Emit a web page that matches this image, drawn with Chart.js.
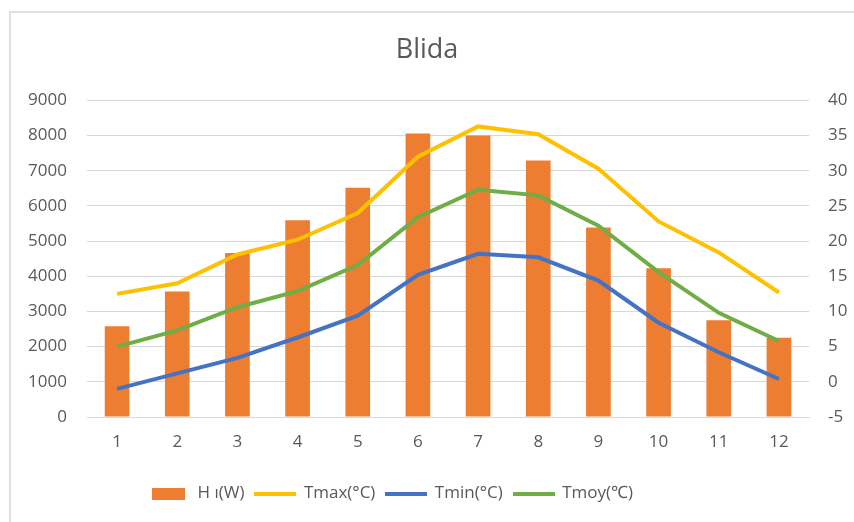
<!DOCTYPE html>
<html>
<head>
<meta charset="utf-8">
<title>Blida</title>
<script src="https://cdn.jsdelivr.net/npm/chart.js@4.4.1/dist/chart.umd.min.js"></script>
<style>
  html, body { margin: 0; padding: 0; background: #ffffff; }
  #wrap { position: relative; width: 854px; height: 522px; }
</style>
</head>
<body>
<div id="wrap"><canvas id="chart" width="854" height="522"></canvas></div>
<script>
// Monthly values for Blida
const months = ['1', '2', '3', '4', '5', '6', '7', '8', '9', '10', '11', '12'];
const energy = [2580, 3570, 4660, 5590, 6520, 8060, 8000, 7290, 5390, 4230, 2750, 2250];
const tMax = [12.5, 14.0, 18.1, 20.2, 24.0, 32.0, 36.3, 35.2, 30.3, 22.8, 18.4, 12.7];
const tMin = [-1.0, 1.2, 3.4, 6.3, 9.4, 15.2, 18.2, 17.7, 14.4, 8.4, 4.2, 0.4];
const tMoy = [5.0, 7.3, 10.6, 12.9, 16.6, 23.4, 27.3, 26.5, 22.2, 15.6, 9.8, 5.8];

const leftTicks = [0, 1000, 2000, 3000, 4000, 5000, 6000, 7000, 8000, 9000];
const rightTicks = [-5, 0, 5, 10, 15, 20, 25, 30, 35, 40];

const textColor = '#595959';
const gridColor = '#d9d9d9';
const fontFamily = '"Open Sans", "Liberation Sans", sans-serif';

// Legend marks: a filled block for the bars, a short thick stroke for the lines
function legendMark(color, w, h) {
  const c = document.createElement('canvas');
  c.width = w; c.height = h;
  const g = c.getContext('2d');
  g.fillStyle = color;
  g.fillRect(0, 0, w, h);
  return c;
}

// Light frame along the top and left edges
const framePlugin = {
  id: 'frame',
  beforeDraw(chart) {
    const ctx = chart.ctx;
    ctx.save();
    ctx.strokeStyle = '#e0e0e0';
    ctx.lineWidth = 2;
    ctx.beginPath();
    ctx.moveTo(10, chart.height);
    ctx.lineTo(10, 12);
    ctx.lineTo(chart.width, 12);
    ctx.stroke();
    ctx.restore();
  }
};

// Nudge the legend row a little to the left
const legendShift = {
  id: 'legendShift',
  afterLayout(chart) {
    const lg = chart.legend;
    if (lg) { lg.left -= 36; lg.right -= 36; }
  }
};

const plainNumber = v => String(v);

new Chart(document.getElementById('chart'), {
  data: {
    labels: months,
    datasets: [
      {
        type: 'bar',
        label: 'H ı(W)',
        data: energy,
        yAxisID: 'y',
        backgroundColor: '#ED7D31',
        borderWidth: 0,
        categoryPercentage: 1.0,
        barPercentage: 0.41,
        order: 2
      },
      {
        type: 'line',
        label: 'Tmax(°C)',
        data: tMax,
        yAxisID: 'y1',
        borderColor: '#FFC000',
        backgroundColor: '#FFC000',
        borderWidth: 4,
        pointRadius: 0,
        tension: 0,
        order: 1
      },
      {
        type: 'line',
        label: 'Tmin(°C)',
        data: tMin,
        yAxisID: 'y1',
        borderColor: '#4472C4',
        backgroundColor: '#4472C4',
        borderWidth: 4,
        pointRadius: 0,
        tension: 0,
        order: 1
      },
      {
        type: 'line',
        label: 'Tmoy(℃)',
        data: tMoy,
        yAxisID: 'y1',
        borderColor: '#70AD47',
        backgroundColor: '#70AD47',
        borderWidth: 4,
        pointRadius: 0,
        tension: 0,
        order: 1
      }
    ]
  },
  options: {
    responsive: false,
    animation: false,
    layout: { padding: { top: 0, bottom: 10, left: 0, right: 0 } },
    plugins: {
      tooltip: { enabled: false },
      title: {
        display: true,
        text: 'Blida',
        color: textColor,
        font: { family: fontFamily, size: 27, weight: 'normal' },
        padding: { top: 34, bottom: 34 }
      },
      legend: {
        position: 'bottom',
        labels: {
          color: textColor,
          font: { family: fontFamily, size: 17 },
          usePointStyle: true,
          pointStyleWidth: 40,
          boxHeight: 12,
          padding: 11,
          sort: (a, b) => a.datasetIndex - b.datasetIndex,
          generateLabels(chart) {
            const items = Chart.defaults.plugins.legend.labels.generateLabels(chart);
            items.forEach(it => {
              const ds = chart.data.datasets[it.datasetIndex];
              it.pointStyle = ds.type === 'bar'
                ? legendMark(ds.backgroundColor, 33, 12)
                : legendMark(ds.borderColor, 42, 4);
              it.fontColor = textColor;
            });
            return items;
          }
        }
      }
    },
    scales: {
      x: {
        grid: { display: false, drawTicks: false },
        border: { display: true, color: gridColor, width: 1 },
        ticks: { color: textColor, font: { family: fontFamily, size: 17 }, padding: 15 },
        afterFit(scale) { scale.height = 57; }
      },
      y: {
        position: 'left',
        min: 0,
        max: 9000,
        afterBuildTicks(scale) { scale.ticks = leftTicks.map(v => ({ value: v })); },
        grid: { color: gridColor, lineWidth: 1, drawTicks: false },
        border: { display: false },
        ticks: { color: textColor, font: { family: fontFamily, size: 17 }, padding: 20, callback: plainNumber },
        afterFit(scale) { scale.width = 87; }
      },
      y1: {
        position: 'right',
        min: -5,
        max: 40,
        afterBuildTicks(scale) { scale.ticks = rightTicks.map(v => ({ value: v })); },
        grid: { display: false, drawTicks: false },
        border: { display: false },
        ticks: { color: textColor, font: { family: fontFamily, size: 17 }, padding: 19, callback: plainNumber },
        afterFit(scale) { scale.width = 45; }
      }
    }
  },
  plugins: [framePlugin, legendShift]
});
</script>
</body>
</html>
